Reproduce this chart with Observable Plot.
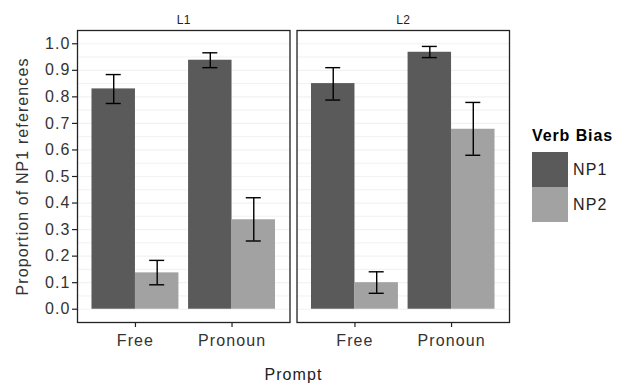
<!DOCTYPE html>
<html>
<head>
<meta charset="utf-8">
<script src="https://cdn.jsdelivr.net/npm/d3@7"></script>
<script src="https://cdn.jsdelivr.net/npm/@observablehq/plot@0.6"></script>
<style>
  body { margin: 0; background: #fff; }
  #wrap { position: relative; width: 626px; height: 383px; font-family: "Liberation Sans", Arial, sans-serif; }
  #wrap svg text { letter-spacing: 1.1px; }
  #wrap svg g[aria-label="fx-axis tick label"] { font-size: 12px; }
  #wrap svg g[aria-label="fx-axis tick label"] text { letter-spacing: 0.3px; }
  #legend { position: absolute; left: 532px; top: 126px; color: #000; }
  #legend .title { font-weight: bold; font-size: 16px; letter-spacing: 0.9px; line-height: 20px; margin-bottom: 6px; }
  #legend .row { display: flex; align-items: center; height: 35px; }
  #legend .sw { width: 36px; height: 35px; margin-right: 5px; }
  #legend .lab { font-size: 16px; letter-spacing: 1.1px; color: #222; }
</style>
</head>
<body>
<div id="wrap"></div>
<script>
// ---- data ----
const languages = ["L1", "L2"];
const prompts = ["Free", "Pronoun"];
const biases = ["NP1", "NP2"];
const colors = ["#5a5a5a", "#a2a2a2"];

const rowLanguage = ["L1", "L1", "L1", "L1", "L2", "L2", "L2", "L2"];
const rowPrompt   = ["Free", "Free", "Pronoun", "Pronoun", "Free", "Free", "Pronoun", "Pronoun"];
const rowBias     = ["NP1", "NP2", "NP1", "NP2", "NP1", "NP2", "NP1", "NP2"];
const meanValues  = [0.83, 0.137, 0.938, 0.337, 0.85, 0.10, 0.968, 0.678];
const lowValues   = [0.775, 0.092, 0.91, 0.257, 0.788, 0.06, 0.948, 0.58];
const highValues  = [0.884, 0.184, 0.966, 0.42, 0.91, 0.141, 0.99, 0.779];

const yTicks = [0, 0.1, 0.2, 0.3, 0.4, 0.5, 0.6, 0.7, 0.8, 0.9, 1.0];
const yMinor = [0.05, 0.15, 0.25, 0.35, 0.45, 0.55, 0.65, 0.75, 0.85, 0.95];

const data = rowLanguage.map((L, i) => ({
  language: L, prompt: rowPrompt[i], bias: rowBias[i],
  mean: meanValues[i], low: lowValues[i], high: highValues[i]
}));

// ---- layout ----
const W = 520, H = 383;
const ml = 77, mr = 11, mt = 30, mb = 61;
const fxPadInner = 0.032;
const xPadInner = 0.1, xPadOuter = 0.15;
const innerW = W - ml - mr;
const fxStep = innerW / (languages.length - fxPadInner);
const panelW = fxStep * (1 - fxPadInner);
const xStep = panelW / (prompts.length - xPadInner + 2 * xPadOuter);
const bw = xStep * (1 - xPadInner);
const half = bw / 2;
const cap = 15;

const font = "Liberation Sans, Arial, sans-serif";
const np1 = data.filter(d => d.bias === biases[0]);
const np2 = data.filter(d => d.bias === biases[1]);

function errMarks(rows, sign) {
  const c = sign * half / 2;
  return [
    Plot.ruleX(rows, {fx: "language", x: "prompt", y1: "low", y2: "high", dx: c, stroke: "#000", strokeWidth: 1.4}),
    Plot.tickY(rows, {fx: "language", x: "prompt", y: "low", stroke: "#000", strokeWidth: 1.4,
      insetLeft: half + c - cap / 2, insetRight: half - c - cap / 2}),
    Plot.tickY(rows, {fx: "language", x: "prompt", y: "high", stroke: "#000", strokeWidth: 1.4,
      insetLeft: half + c - cap / 2, insetRight: half - c - cap / 2})
  ];
}

const chart = Plot.plot({
  width: W, height: H,
  marginLeft: ml, marginRight: mr, marginTop: mt, marginBottom: mb,
  style: {fontFamily: font, fontSize: "16px", background: "#fff", overflow: "visible"},
  fx: {domain: languages, paddingInner: fxPadInner, paddingOuter: 0, round: false},
  x: {domain: prompts, paddingInner: xPadInner, paddingOuter: xPadOuter, round: false},
  y: {domain: [-0.05, 1.05]},
  color: {domain: biases, range: colors},
  marks: [
    Plot.ruleY(yMinor, {stroke: "#ededed", strokeWidth: 0.8}),
    Plot.ruleY(yTicks, {stroke: "#f2f2f2", strokeWidth: 1.2}),
    Plot.barY(np1, {fx: "language", x: "prompt", y1: 0, y2: "mean", fill: colors[0], insetRight: half}),
    Plot.barY(np2, {fx: "language", x: "prompt", y1: 0, y2: "mean", fill: colors[1], insetLeft: half}),
    ...errMarks(np1, -1),
    ...errMarks(np2, 1),
    Plot.frame({stroke: "#222", strokeWidth: 1.3}),
    Plot.axisY(yTicks, {anchor: "left", tickFormat: d3.format(".1f"), tickSize: 5, tickPadding: 2,
      fill: "#333", stroke: "#222", strokeWidth: 1.2,
      label: "Proportion of NP1 references", labelAnchor: "center", labelArrow: "none", labelOffset: 61}),
    Plot.axisX({tickSize: 5, tickPadding: 7, fill: "#333", stroke: "#222", strokeWidth: 1.2,
      label: null}),
    Plot.axisFx({anchor: "top", tickSize: 0, tickPadding: 7, fill: "#222", label: null}),
    Plot.axisFx({anchor: "bottom", tickSize: 0, tickFormat: () => "", label: "Prompt",
      labelAnchor: "center", labelArrow: "none", labelOffset: 57, fill: "#222"})
  ]
});

const wrap = document.getElementById("wrap");
chart.style.position = "absolute";
chart.style.left = "0px";
chart.style.top = "0px";
wrap.appendChild(chart);

const legend = document.createElement("div");
legend.id = "legend";
legend.innerHTML = `<div class="title">Verb Bias</div>` +
  biases.map((b, i) => `<div class="row"><div class="sw" style="background:${colors[i]}"></div><div class="lab">${b}</div></div>`).join("");
wrap.appendChild(legend);
</script>
</body>
</html>
